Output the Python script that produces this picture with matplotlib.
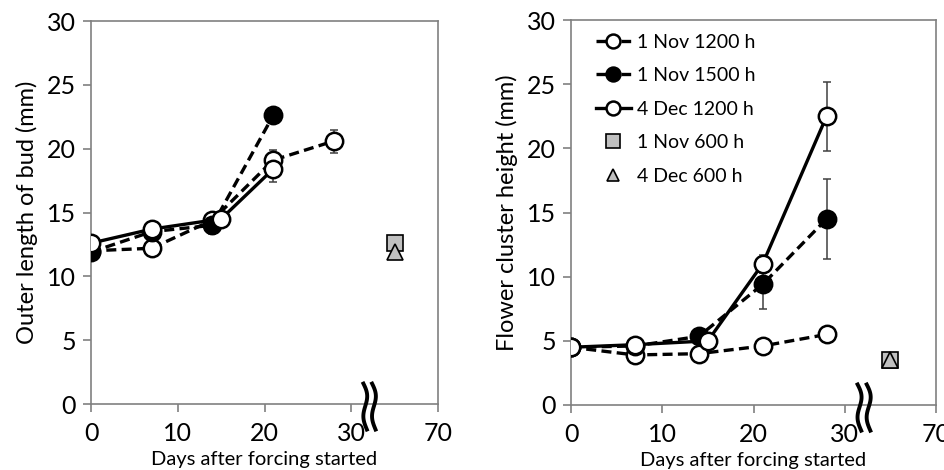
import matplotlib.pyplot as plt
import numpy as np

plt.rcParams['font.family'] = ['Lato', 'DejaVu Sans']

# x positions (days); 600 h groups are drawn at x=35 behind the axis break ("70")
days_a = [0, 7, 14, 21, 28]
days_c = [0, 7, 15, 21, 28]
x_600 = 35

# Outer length of bud (mm)
bud_nov1200 = [12.0, 12.2, 14.4, 19.1, 20.6]
bud_nov1200_err = [0, 0, 0.3, 0.8, 0.9]
bud_nov1500 = [11.9, 13.5, 14.0, 22.6]
bud_nov1500_err = [0, 0, 0.7, 0.6]
bud_dec1200 = [12.6, 13.7, 14.5, 18.4]
bud_dec1200_err = [0, 0, 0, 1.0]
bud_nov600 = 12.6
bud_dec600 = 11.9

# Flower cluster height (mm)
fc_nov1200 = [4.5, 3.9, 4.0, 4.6, 5.5]
fc_nov1200_err = [0, 0, 0, 0, 0]
fc_nov1500 = [4.5, 4.6, 5.35, 9.4, 14.5]
fc_nov1500_err = [0, 0, 0.2, 1.95, 3.15]
fc_dec1200 = [4.5, 4.7, 5.0, 11.0, 22.5]
fc_dec1200_err = [0, 0, 0, 0.7, 2.7]
fc_nov600 = 3.5
fc_dec600 = 3.5

xticks = [0, 10, 20, 30, 40]
xticklabels = ['0', '10', '20', '30', '70']

fig = plt.figure(figsize=(9.44, 4.7), dpi=100)
ax1 = fig.add_axes([0.0964, 0.1404, 0.3676, 0.8149])
ax2 = fig.add_axes([0.6049, 0.1383, 0.3867, 0.819])

ms = 12.5
mew = 1.8
lw = 2.4
dash = (3, 1.6)
ecol = '#404040'


def draw_series(ax, x, y, err, filled, dashed, label):
    ls = '--' if dashed else '-'
    ax.errorbar(x, y, yerr=err, fmt='none', ecolor=ecol, elinewidth=1.1,
                capsize=3, capthick=1.1, zorder=2)
    line, = ax.plot(x, y, ls, color='black', lw=lw, marker='o', ms=ms,
                    mfc='black' if filled else 'white', mec='black', mew=mew,
                    label=label, zorder=3)
    if dashed:
        line.set_dashes(dash)
    return line


def style(ax, ylabel):
    ax.set_xlim(0, 40)
    ax.set_ylim(0, 30)
    ax.set_xticks(xticks)
    ax.set_xticklabels(xticklabels)
    ax.set_yticks(range(0, 31, 5))
    for s in ax.spines.values():
        s.set_color('#808080')
        s.set_linewidth(1.2)
    ax.tick_params(colors='#808080', labelcolor='black', labelsize=18,
                   length=6, width=1.2)
    ax.tick_params(axis='x', pad=7)
    ax.tick_params(axis='y', pad=5)
    ax.set_xlabel('Days after forcing started', fontsize=14.5, labelpad=4)
    ax.set_ylabel(ylabel, fontsize=17, labelpad=6)
    # axis break squiggles
    t = np.linspace(0, 1, 40)
    for x0 in (31.4, 32.4):
        xs = x0 + 0.35 * np.sin(t * 2 * np.pi) * (1 - t * 0.2) + t * 0.4
        ys = 1.6 - t * 3.6
        ax.plot(xs, ys, color='black', lw=2.8, clip_on=False, zorder=5)


draw_series(ax1, days_a, bud_nov1200, bud_nov1200_err, False, True, '1 Nov 1200 h')
draw_series(ax1, days_a[:4], bud_nov1500, bud_nov1500_err, True, True, '1 Nov 1500 h')
draw_series(ax1, days_c[:4], bud_dec1200, bud_dec1200_err, False, False, '4 Dec 1200 h')
ax1.plot([x_600], [bud_nov600], 's', ms=12, mfc='#c0c0c0', mec='black', mew=1.2, zorder=4)
ax1.plot([x_600], [bud_dec600], '^', ms=11, mfc='#c0c0c0', mec='black', mew=1.2, zorder=4)
style(ax1, 'Outer length of bud (mm)')

draw_series(ax2, days_a, fc_nov1200, fc_nov1200_err, False, True, '1 Nov 1200 h')
draw_series(ax2, days_a, fc_nov1500, fc_nov1500_err, True, True, '1 Nov 1500 h')
draw_series(ax2, days_c, fc_dec1200, fc_dec1200_err, False, False, '4 Dec 1200 h')
ax2.plot([x_600], [fc_nov600], 's', ms=12, mfc='#c0c0c0', mec='black', mew=1.2,
         zorder=4, label='1 Nov 600 h')
ax2.plot([x_600], [fc_dec600], '^', ms=11, mfc='#c0c0c0', mec='black', mew=1.2,
         zorder=4, label='4 Dec 600 h')
style(ax2, 'Flower cluster height (mm)')

h, l = ax2.get_legend_handles_labels()
leg = ax2.legend(h, l, loc='upper left', frameon=False, fontsize=14,
                 handlelength=1.8, markerscale=0.8, labelspacing=0.85,
                 handletextpad=0.35, borderaxespad=0.3,
                 bbox_to_anchor=(0.03, 1.0))
# short dash on each side of the marker in the legend keys (dashes scale with lw)
for ln in leg.get_lines()[:2]:
    ln.set_dashes((2.9, 4.6))

plt.savefig('out.png', dpi=100)
